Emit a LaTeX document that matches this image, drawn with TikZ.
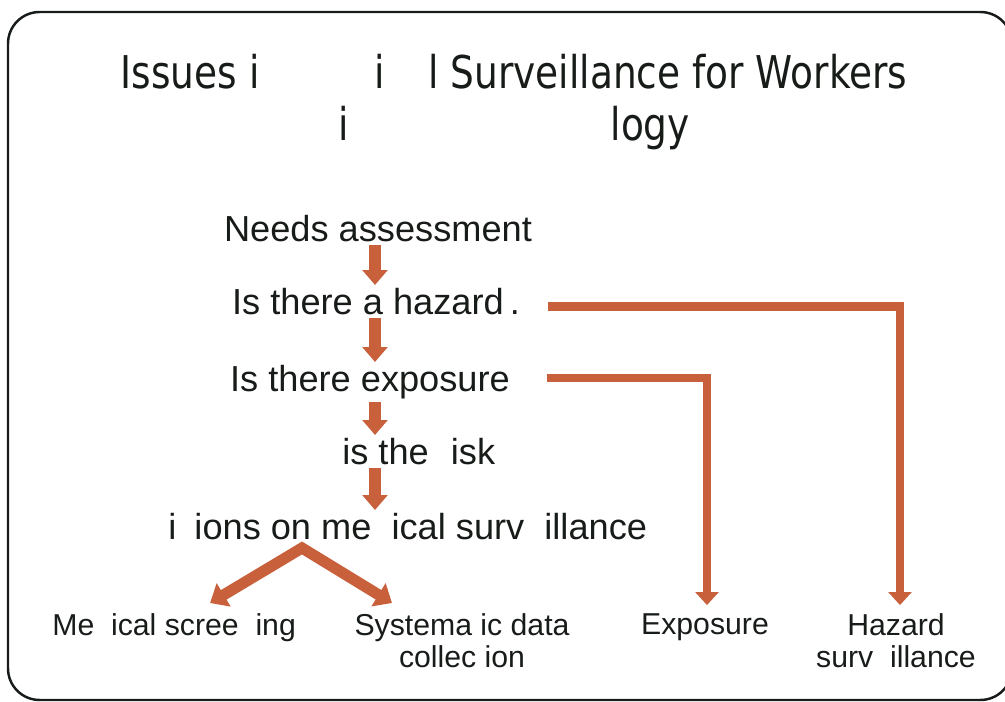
\documentclass[tikz,border=0pt]{standalone}
\usepackage{fontspec}
\setmainfont{Liberation Sans}
\newfontfamily\titlefont[FakeStretch=0.83]{DejaVu Sans}
\usetikzlibrary{arrows.meta,calc}

\definecolor{arrowred}{RGB}{200,96,60}
\definecolor{inkdark}{RGB}{24,28,24}

\tikzset{
  stage/.style={font=\fontsize{20.6}{24}\selectfont, text=inkdark, inner sep=1.7pt},
  outcome/.style={font=\fontsize{17.2}{18.2}\selectfont, text=inkdark, align=center, inner sep=1.7pt},
  flow/.style={draw=arrowred, line width=6.3pt, -{Triangle[width=14pt,length=8.5pt]}},
  branch/.style={draw=arrowred, line width=6.3pt, line join=miter,
    {Triangle[width=15pt,length=9pt]}-{Triangle[width=15pt,length=9pt]}},
  elbow/.style={draw=arrowred, line width=4.8pt, line join=miter,
    -{Triangle[width=13pt,length=7.4pt]}}
}

\begin{document}
\begin{tikzpicture}[x=0.02cm,y=-0.02cm]
    \useasboundingbox (0,0) rectangle (1005,702);

    % frame of the slide
    \draw[inkdark, line width=1.4pt, rounded corners=18pt] (8,12) rectangle (1012,700);

    % title
    \node[anchor=north, inner sep=0pt, align=center, text=inkdark,
          font=\titlefont\fontsize{25.7}{29.6}\selectfont] (title) at (514,54)
        {Issues i\phantom{n Med}i\phantom{ca}l Surveillance for Workers\\
         i\phantom{n Nanotechno}logy};

    % main chain
    \coordinate (spine) at (375,0);
    \node[stage, anchor=north] (needs) at (378,212) {Needs assessment};
    \node[stage, anchor=north] (hazard) at (376,285) {Is there a hazard\,.};
    \node[stage, anchor=north] (exposure) at (370,362) {Is there exposure};
    \node[stage, anchor=north west] (risk) at (339,435) {is the \phantom{r}isk};
    \node[stage, anchor=north west] (decisions) at (165,510)
        {i\phantom{s}ions on me\phantom{d}ical surv\phantom{e}illance};

    % outcomes
    \node[outcome, anchor=north west] (screening) at (49,610) {Me\phantom{d}ical scree\phantom{n}ing};
    \node[outcome, anchor=north] (datacol) at (462,610) {Systema\phantom{t}ic data\\ collec\phantom{t}ion};
    \node[outcome, anchor=north] (exposed) at (705,610) {Exposure};
    \node[outcome, anchor=north] (hazsurv) at (896,610) {Hazard\\ surv\phantom{e}illance};

    % arrows down the chain
    \draw[flow] (needs.south -| spine) -- (hazard.north -| spine);
    \draw[flow] (hazard.south -| spine) -- (exposure.north -| spine);
    \draw[flow] (exposure.south -| spine) -- (risk.north -| spine);
    \draw[flow] (risk.south -| spine) -- (decisions.north -| spine);

    % fork to the two kinds of surveillance
    \coordinate (fork) at (302,548);
    \draw[branch] ($(screening.north)+(36,-7)$) -- (fork) -- ($(datacol.north)+(-70,-7)$);

    % side branches
    \draw[elbow, shorten >=2.8pt] ($(hazard.east)+(25,5)$) -| ($(hazsurv.north)+(4,0)$);
    \draw[elbow, shorten >=2.8pt] ($(exposure.east)+(34,-4)$) -| ($(exposed.north)+(2,0)$);
\end{tikzpicture}
\end{document}
